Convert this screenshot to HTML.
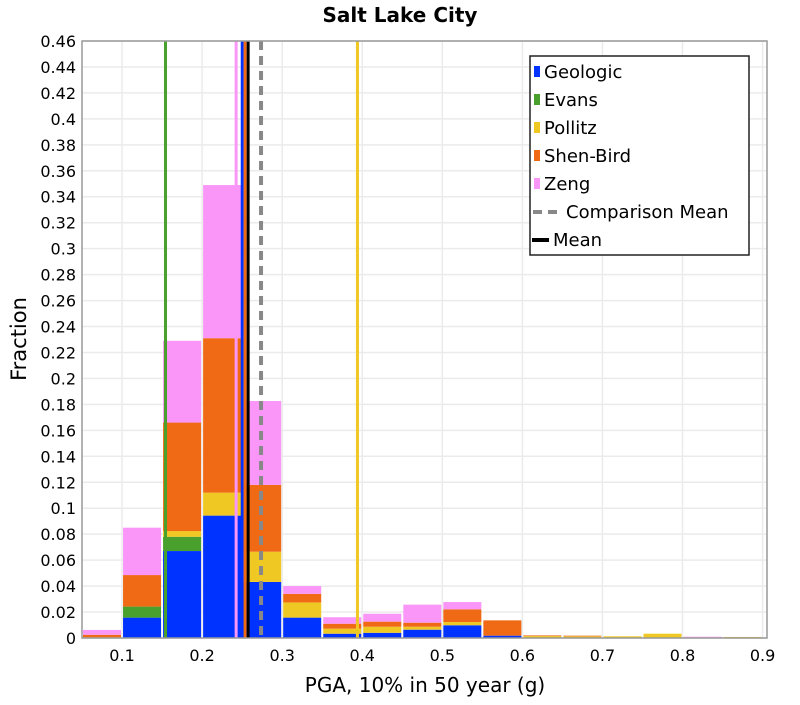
<!DOCTYPE html>
<html><head><meta charset="utf-8"><style>
body{margin:0;background:#fff;font-family:"Liberation Sans","DejaVu Sans",sans-serif}
</style></head><body>
<svg id="chart" width="800" height="700" xmlns="http://www.w3.org/2000/svg" style="font-family:'DejaVu Sans','Liberation Sans',sans-serif">
<text x="400" y="22" text-anchor="middle" font-size="20" font-weight="bold">Salt Lake City</text>
<g id="grid"></g><g id="bars"></g><g id="lines"></g><g id="axes"></g>
<g id="legend"></g>
<text x="425" y="692" text-anchor="middle" font-size="20">PGA, 10% in 50 year (g)</text>
<text transform="translate(26,339) rotate(-90)" text-anchor="middle" font-size="21">Fraction</text>
</svg>
<script>
const binCenters=[0.075,0.125,0.175,0.225,0.275,0.325,0.375,0.425,0.475,0.525,0.575,0.625,0.675,0.725,0.775,0.825,0.875];
const geologic=[0,0.0157,0.067,0.0943,0.0432,0.0157,0.0033,0.004,0.0064,0.0098,0.0018,0,0,0,0,0,0];
const evans=[0.0005,0.0085,0.011,0,0,0,0,0,0,0,0,0,0,0,0,0,0];
const pollitz=[0,0,0.0044,0.0177,0.0233,0.0117,0.0039,0.0047,0.0023,0.0025,0,0.0015,0.0013,0.0013,0.0033,0.0005,0.0008];
const shenBird=[0.002,0.0243,0.0836,0.119,0.0515,0.0066,0.0038,0.0039,0.0031,0.0098,0.0118,0.0005,0.0005,0,0,0,0];
const zeng=[0.0037,0.0365,0.063,0.118,0.0646,0.006,0.005,0.0061,0.0139,0.0056,0,0,0,0,0,0.0005,0];
const seriesNames=["Geologic","Evans","Pollitz","Shen-Bird","Zeng"];
const seriesColors=["#0033ff","#4aa02c","#f0c823","#f06a16","#fa96f8"];
const meanNames=["Zeng","Geologic","Shen-Bird","Evans","Pollitz"];
const meanValues=[0.2425,0.2501,0.2537,0.1543,0.394];
const meanColors=["#fa96f8","#0033ff","#f06a16","#4aa02c","#f0c823"];
const overallMean=0.2575;
const comparisonMean=0.2736;
const xTicks=[0.1,0.2,0.3,0.4,0.5,0.6,0.7,0.8,0.9];
const yTicks=[0,0.02,0.04,0.06,0.08,0.1,0.12,0.14,0.16,0.18,0.2,0.22,0.24,0.26,0.28,0.3,0.32,0.34,0.36,0.38,0.4,0.42,0.44,0.46];

const NS="http://www.w3.org/2000/svg";
const X0=82,X1=767,Y0=638,Y1=41,xmin=0.05,xmax=0.9055,ymax=0.46;
const sx=v=>X0+(v-xmin)/(xmax-xmin)*(X1-X0);
const sy=v=>Y0-v/ymax*(Y0-Y1);
function mk(tag,attrs,parent){const e=document.createElementNS(NS,tag);for(const k in attrs)e.setAttribute(k,attrs[k]);parent.appendChild(e);return e;}
const grid=document.getElementById('grid'),bars=document.getElementById('bars'),lines=document.getElementById('lines'),axes=document.getElementById('axes'),legend=document.getElementById('legend');
yTicks.forEach(t=>{
 const l=mk('line',{x1:X0,x2:X1,y1:sy(t),y2:sy(t),stroke:'#ebebeb','stroke-width':1.5},grid);
 
 
 const tx=mk('text',{x:X0-6,y:sy(t)+6,'text-anchor':'end','font-size':16},axes);
 tx.textContent=String(t);
 
 
});
xTicks.forEach(t=>{
 const l=mk('line',{x1:sx(t),x2:sx(t),y1:Y1,y2:Y0,stroke:'#ebebeb','stroke-width':1.5},grid);
 
 
 const tx=mk('text',{x:sx(t),y:Y0+23,'text-anchor':'middle','font-size':16},axes);
 tx.textContent=String(t);
 
 
});
const data=[geologic,evans,pollitz,shenBird,zeng];
binCenters.forEach((c,i)=>{
 let acc=0;
 const xl=sx(c-0.025)+1,xr=sx(c+0.025)-1;
 data.forEach((arr,s)=>{
  const v=arr[i];if(v<=0)return;
  const r=mk('rect',{x:xl,width:xr-xl,y:sy(acc+v),height:sy(acc)-sy(acc+v),fill:seriesColors[s]},bars);
  
  
  acc+=v;
 });
});
meanValues.forEach((m,i)=>{
 const l=mk('line',{x1:sx(m),x2:sx(m),y1:Y1,y2:Y0,stroke:meanColors[i],'stroke-width':3},lines);
 
 
});
const cm=mk('line',{x1:sx(comparisonMean),x2:sx(comparisonMean),y1:Y1,y2:Y0,stroke:'#888','stroke-width':4,'stroke-dasharray':'9,6'},lines);


const om=mk('line',{x1:sx(overallMean),x2:sx(overallMean),y1:Y1,y2:Y0,stroke:'#000','stroke-width':3},lines);


const frame=mk('rect',{x:X0,y:Y1,width:X1-X0,height:Y0-Y1,fill:'none',stroke:'#999','stroke-width':1.5},axes);


// legend
const lb=mk('rect',{x:530,y:56,width:219,height:199,fill:'#fff',stroke:'#222','stroke-width':1.5},legend);


const legLabels=seriesNames.concat(["Comparison Mean","Mean"]);
legLabels.forEach((n,i)=>{
 const y=71+i*28;
 const g=mk('g',{},legend);
 
 
 let tx=544;
 if(i<5){mk('rect',{x:534,y:y-5,width:6,height:11,fill:seriesColors[i]},g);}
 else if(i==5){mk('line',{x1:533,x2:561,y1:y+1,y2:y+1,stroke:'#888','stroke-width':4,'stroke-dasharray':'9,6'},g);tx=566;}
 else{mk('line',{x1:532,x2:549,y1:y+1,y2:y+1,stroke:'#000','stroke-width':4},g);tx=553;}
 const t=mk('text',{x:tx,y:y+7,'font-size':18},g);t.textContent=n;
});
</script>
</body></html>
